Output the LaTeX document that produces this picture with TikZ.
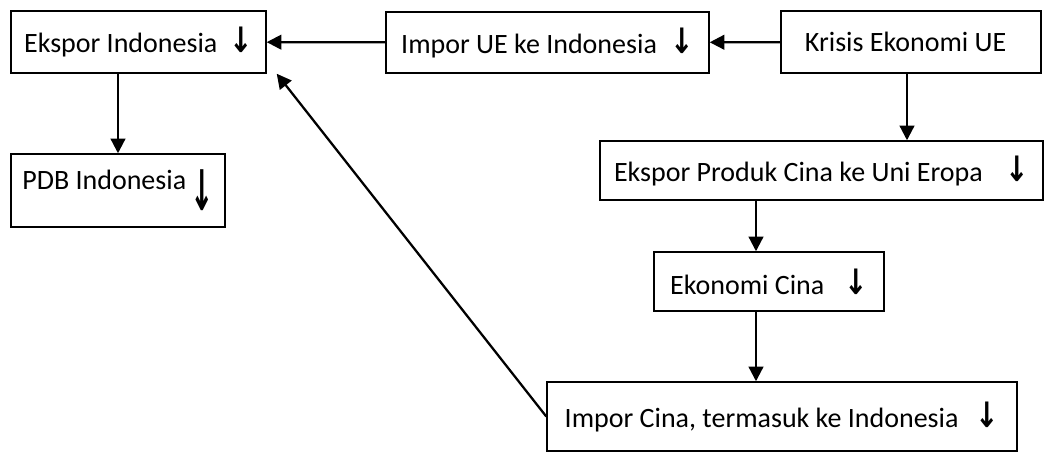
\documentclass[tikz,border=0pt]{standalone}
\usepackage{fontspec}
\setmainfont{Carlito}
\newfontfamily\symfont{DejaVu Sans}
\usetikzlibrary{arrows.meta,positioning}

\newcommand{\turun}{{\symfont\bfseries\scalebox{1}[1.25]{↓}}}
\newcommand{\turunpanjang}{{\symfont\bfseries\raisebox{-16pt}{\scalebox{1}[2]{↓}}}}

\begin{document}
\begin{tikzpicture}[
  x=0.75pt, y=-0.75pt,
  font=\fontsize{21}{25}\selectfont,
  >={Triangle[length=11pt,width=11pt]},
  kotak/.style={rectangle, draw=black, line width=1.1pt, inner sep=0pt, align=center},
  panah/.style={->, line width=1.7pt}
]
\useasboundingbox (0,0) rectangle (1046,453);

\node[kotak, minimum width=191.25pt, minimum height=46.5pt] (eksporIdn) at (138.5,42) {Ekspor Indonesia\hspace{9pt}\turun};
\node[kotak, minimum width=242.25pt, minimum height=45.75pt] (imporUE) at (547.5,42.5) {Impor UE ke Indonesia\hspace{10pt}\turun};
\node[kotak, minimum width=195pt, minimum height=46.5pt] (krisis) at (911,42) {Krisis Ekonomi UE\hspace{8pt}};
\node[kotak, minimum width=160.5pt, minimum height=54.75pt] (pdb) at (118,190.5) {PDB Indonesia\hspace{3pt}\turunpanjang};
\node[kotak, minimum width=332.25pt, minimum height=44.25pt] (eksporCina) at (821.5,170.5) {Ekspor Produk Cina ke Uni Eropa\hspace{17pt}\turun};
\node[kotak, minimum width=172.5pt, minimum height=44.25pt] (ekonomiCina) at (769,281.5) {Ekonomi Cina\hspace{15pt}\turun};
\node[kotak, minimum width=352.5pt, minimum height=51.75pt] (imporCina) at (782,416.5) {Impor Cina, termasuk ke Indonesia\hspace{13pt}\turun};

\coordinate (poros) at (756,0);

\draw[panah] (imporUE) -- (eksporIdn);
\draw[panah] (krisis) -- (imporUE);
\draw[panah] (eksporIdn.south -| pdb.north) -- (pdb.north);
\draw[panah] ([xshift=-3pt]krisis.south) -- ([xshift=-3pt]krisis.south |- eksporCina.north);
\draw[panah] (eksporCina.south -| poros) -- (ekonomiCina.north -| poros);
\draw[panah] (ekonomiCina.south -| poros) -- (imporCina.north -| poros);
\draw[panah] (imporCina.west) -- ([xshift=7.5pt]eksporIdn.south east);
\end{tikzpicture}
\end{document}
